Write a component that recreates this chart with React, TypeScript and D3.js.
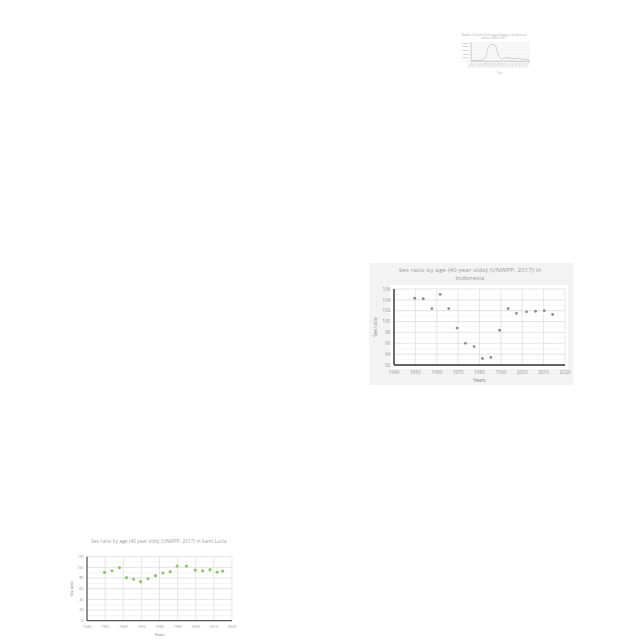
import React from 'react'
import * as d3 from 'd3'

// Top-right small line chart (text unreadable at this size, estimated)
const topTitle = ['Number of deaths from natural disasters in Indonesia', 'annual, 2000 to 2017']
const topYears = ['2000', '2001', '2002', '2003', '2004', '2005', '2006', '2007', '2008', '2009', '2010', '2011', '2012', '2013', '2014', '2015', '2016', '2017']
const topValues = [3000, 3500, 4000, 5000, 20000, 80000, 92000, 85000, 25000, 10000, 18000, 16000, 14000, 12000, 15000, 10000, 8000, 6000]
const topTicks = [0, 20000, 40000, 60000, 80000, 100000]

// Indonesia scatter
const indoYears = [1949.7, 1953.7, 1957.7, 1961.6, 1965.6, 1969.5, 1973.4, 1977.5, 1981.4, 1985.3, 1989.4, 1993.4, 1997.3, 2002, 2006.2, 2010.3, 2014.2]
const indoValues = [104.3, 104.2, 102.4, 105.0, 102.4, 98.8, 96.0, 95.4, 93.2, 93.4, 98.4, 102.4, 101.5, 101.8, 101.9, 102.0, 101.3]
const indoYTicks = [92, 94, 96, 98, 100, 102, 104, 106]

// Saint Lucia scatter
const luciaYears = [1949.7, 1953.8, 1957.9, 1961.8, 1965.7, 1969.6, 1973.7, 1977.8, 1981.9, 1985.9, 1989.7, 1994.9, 1999.7, 2003.8, 2007.9, 2011.8, 2014.8]
const luciaValues = [90.6, 93.7, 99.4, 80.6, 78.1, 73.1, 78.7, 84.4, 89.4, 91.9, 102.5, 102.5, 95.0, 93.7, 95.6, 91.2, 93.1]
const luciaYTicks = [0, 20, 40, 60, 80, 100, 120]

const xTicks = [1940, 1950, 1960, 1970, 1980, 1990, 2000, 2010, 2020]

const font = "'Open Sans', 'DejaVu Sans', sans-serif"

const TopChart = () => {
  const x = d3.scalePoint<string>().domain(topYears).range([472, 529])
  const y = d3.scaleLinear().domain([0, 100000]).range([61, 43])
  const line = d3
    .line<number>()
    .x((_d, i) => x(topYears[i]) || 0)
    .y(d => y(d))
    .curve(d3.curveMonotoneX)
  return (
    <g fontFamily={font}>
      {topTitle.map((t, i) => (
        <text key={i} x={494} y={35.5 + i * 3.6} textAnchor="middle" fontSize={2.6} fill="#aaa">
          {t}
        </text>
      ))}
      <rect x={471} y={42} width={59} height={19.3} fill="#f8f8f8" />
      {topTicks.map(t => (
        <g key={t}>
          <line x1={471} x2={530} y1={y(t)} y2={y(t)} stroke="#efefef" strokeWidth={0.4} />
          <text x={469} y={y(t) + 0.8} textAnchor="end" fontSize={2.3} fill="#999">
            {t}
          </text>
        </g>
      ))}
      <path d={line(topValues) || ''} fill="none" stroke="#aaa" strokeWidth={0.5} />
      <line x1={471} x2={471} y1={42} y2={61.3} stroke="#999" strokeWidth={0.5} />
      <line x1={471} x2={530} y1={61.3} y2={61.3} stroke="#999" strokeWidth={0.5} />
      {topYears.map(t => (
        <text
          key={t}
          transform={`translate(${(x(t) || 0) + 0.8},${63.5}) rotate(-45)`}
          textAnchor="end"
          fontSize={2.6}
          fill="#999"
        >
          {t}
        </text>
      ))}
      <text x={500} y={74} textAnchor="middle" fontSize={2.6} fill="#aaa">
        Year
      </text>
    </g>
  )
}

interface ScatterProps {
  title: string[]
  years: number[]
  values: number[]
  yTicks: number[]
  left: number
  right: number
  top: number
  bottom: number
  titleX: number
  titleY: number
  titleSize: number
  tickSize: number
  color: string
  r: number
  minorStep: number
  axisWidth: number
  yLabelX: number
  xLabelY: number
  yearsY: number
}

const Scatter = (p: ScatterProps) => {
  const x = d3.scaleLinear().domain([1940, 2020]).range([p.left, p.right])
  const yMin = p.yTicks[0]
  const yMax = p.yTicks[p.yTicks.length - 1]
  const y = d3.scaleLinear().domain([yMin, yMax]).range([p.bottom, p.top])
  const minor = d3.range(yMin, yMax + 0.001, p.minorStep)
  return (
    <g fontFamily={font}>
      {p.title.map((t, i) => (
        <text key={i} x={p.titleX} y={p.titleY + i * p.titleSize * 1.35} textAnchor="middle" fontSize={p.titleSize} fill="#999" letterSpacing={0.15}>
          {t}
        </text>
      ))}
      {minor.map(t => (
        <line key={'m' + t} x1={p.left} x2={p.right} y1={y(t)} y2={y(t)} stroke="#eeeeee" strokeWidth={0.5} />
      ))}
      {p.yTicks.map(t => (
        <g key={t}>
          <line x1={p.left} x2={p.right} y1={y(t)} y2={y(t)} stroke="#d9d9d9" strokeWidth={0.6} />
          <text x={p.left - 3.5} y={y(t) + p.tickSize * 0.35} textAnchor="end" fontSize={p.tickSize} fill="#999">
            {t}
          </text>
        </g>
      ))}
      {xTicks.map(t => (
        <g key={t}>
          <line x1={x(t)} x2={x(t)} y1={p.top} y2={p.bottom} stroke="#d9d9d9" strokeWidth={0.6} />
          <text x={x(t)} y={p.xLabelY} textAnchor="middle" fontSize={p.tickSize} fill="#999">
            {t}
          </text>
        </g>
      ))}
      <line x1={p.left} x2={p.left} y1={p.top} y2={p.bottom} stroke="#333" strokeWidth={p.axisWidth} />
      <line x1={p.left} x2={p.right} y1={p.bottom} y2={p.bottom} stroke="#333" strokeWidth={p.axisWidth} />
      {p.values.map((v, i) => (
        <circle key={i} cx={x(p.years[i])} cy={y(v)} r={p.r} fill={p.color} />
      ))}
      <text
        transform={`translate(${p.yLabelX},${(p.top + p.bottom) / 2}) rotate(-90)`}
        textAnchor="middle"
        fontSize={p.tickSize}
        fill="#777"
      >
        Sex ratio
      </text>
      <text x={(p.left + p.right) / 2} y={p.yearsY} textAnchor="middle" fontSize={p.tickSize} fill="#777">
        Years
      </text>
    </g>
  )
}

export default function App() {
  return (
    <svg width={640} height={640} style={{ position: 'absolute', left: 0, top: 0, background: '#fff' }}>
      <TopChart />
      <rect x={369} y={263} width={204} height={122} fill="#f3f3f3" />
      <rect x={390} y={285} width={178} height={84} fill="#fff" />
      <Scatter
        title={['Sex ratio by age (40 year olds) (UNWPP, 2017) in', 'Indonesia']}
        years={indoYears}
        values={indoValues}
        yTicks={indoYTicks}
        left={394}
        right={565}
        top={289}
        bottom={365}
        titleX={470}
        titleY={272}
        titleSize={6.1}
        tickSize={4.8}
        color="#8c8c8c"
        r={1.4}
        minorStep={1}
        axisWidth={1.4}
        yLabelX={377}
        xLabelY={374}
        yearsY={381.5}
      />
      <Scatter
        title={['Sex ratio by age (40 year olds) (UNWPP, 2017) in Saint Lucia']}
        years={luciaYears}
        values={luciaValues}
        yTicks={luciaYTicks}
        left={87}
        right={232}
        top={556.7}
        bottom={620.7}
        titleX={159}
        titleY={542.5}
        titleSize={4.6}
        tickSize={3.8}
        color="#8cc56e"
        r={1.6}
        minorStep={10}
        axisWidth={1}
        yLabelX={73}
        xLabelY={628}
        yearsY={635.5}
      />
    </svg>
  )
}
